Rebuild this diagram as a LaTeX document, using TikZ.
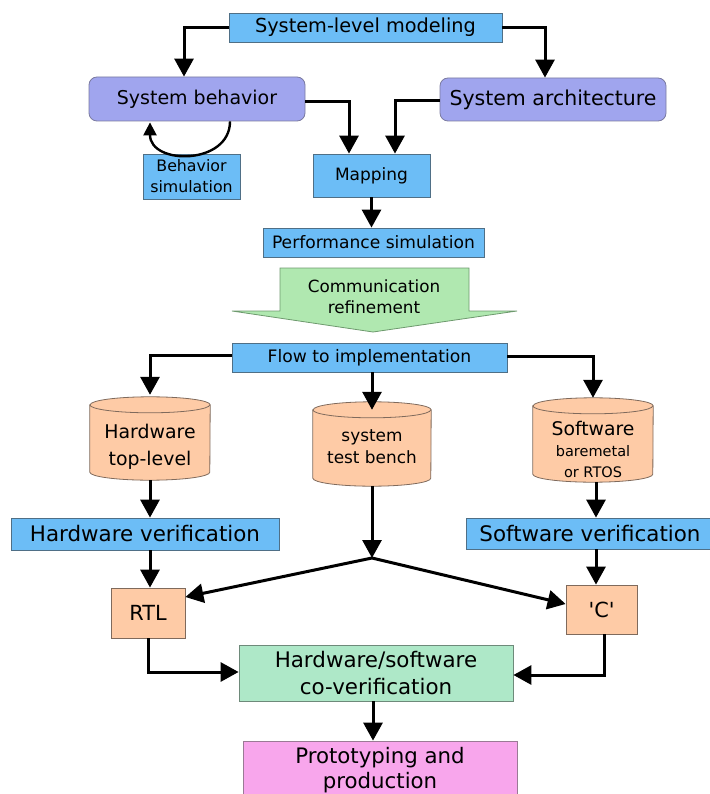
\documentclass[tikz,border=0pt]{standalone}
\usepackage{fontspec}
\setmainfont{DejaVu Sans}
\newfontfamily\straightquotes{DejaVu Sans}
\usetikzlibrary{arrows.meta}
\definecolor{boxblue}{HTML}{6CBDF6}
\definecolor{blueedge}{HTML}{4F6F86}
\definecolor{lavender}{HTML}{A0A5EE}
\definecolor{lavedge}{HTML}{7A7AA0}
\definecolor{peach}{HTML}{FECBA6}
\definecolor{peachedge}{HTML}{7F6A5C}
\definecolor{mint}{HTML}{B0E8B0}
\definecolor{mintedge}{HTML}{6E9A6E}
\definecolor{seafoam}{HTML}{AEE8C8}
\definecolor{seaedge}{HTML}{6E8A7A}
\definecolor{pinkbox}{HTML}{F8A6EC}
\definecolor{pinkedge}{HTML}{9A7A95}
\tikzset{
  fs/.style={font=\fontsize{#1}{#1}\selectfont},
  base/.style={inner sep=0pt, align=center, text=black, line width=0.8pt},
  bluebox/.style={base, fill=boxblue, draw=blueedge},
  lavbox/.style={base, fill=lavender, draw=lavedge, rounded corners=8pt},
  peachbox/.style={base, fill=peach, draw=peachedge},
  cylshape/.style={fill=peach, draw=peachedge, line width=0.8pt},
  plain/.style={base},
  arr/.style={line width=3pt, -{Triangle[length=18pt,width=19pt]}},
  smallarr/.style={line width=2.4pt, -{Triangle[length=13pt,width=13pt]}},
}
\begin{document}
\begin{tikzpicture}[x=1pt,y=1pt]
\useasboundingbox (0,0) rectangle (709,-794);

% upper modelling stage
\node[bluebox, fs=19.3, minimum width=273, minimum height=29] (slm) at (365.5,-27.5) {System-level modeling};
\node[lavbox, fs=19, minimum width=216, minimum height=44] (sb) at (197,-99) {System behavior};
\node[lavbox, fs=20.5, minimum width=226, minimum height=43] (sa) at (553,-99.5) {System architecture};
\node[bluebox, minimum width=97, minimum height=45, font=\fontsize{15.8}{21}\selectfont] (bs) at (191.5,-176.5) {Behavior\\simulation};
\node[bluebox, fs=17, minimum width=117, minimum height=43] (map) at (371.5,-175.5) {Mapping};
\node[bluebox, fs=17.1, minimum width=221, minimum height=29] (perf) at (373.5,-242.5) {Performance simulation};

% refinement arrow
\path[fill=mint, draw=mintedge, line width=0.8pt]
  (280,-268) -- (469,-268) -- (469,-311) -- (517,-311) -- (373,-332)
  -- (232,-311) -- (280,-311) -- cycle;
\node[plain, font=\fontsize{16.8}{21}\selectfont] (comm) at (374,-296.5) {Communication\\refinement};

\node[bluebox, fs=17.2, minimum width=275, minimum height=29] (flow) at (369.5,-357.5) {Flow to implementation};

% storage cylinders
\node[inner sep=0pt, minimum width=120, minimum height=83] (hw) at (150,-438.5) {};
\node[inner sep=0pt, minimum width=118, minimum height=84] (tb) at (372,-444) {};
\node[inner sep=0pt, minimum width=120, minimum height=84] (sw) at (593,-440) {};
\foreach \c/\r in {hw/60, tb/59, sw/60}{
  \path[cylshape] ([yshift=-8]\c.north west) -- ([yshift=8]\c.south west)
    arc[start angle=180, end angle=360, x radius=\r, y radius=8]
    -- ([yshift=-8]\c.north east)
    arc[start angle=0, end angle=180, x radius=\r, y radius=8] -- cycle;
  \draw[peachedge, line width=0.8pt] ([yshift=-8]\c.north west)
    arc[start angle=180, end angle=360, x radius=\r, y radius=8];
}
\node[plain, font=\fontsize{18.9}{27}\selectfont] (hwt) at (150,-446.5) {Hardware\\top-level};
\node[plain, font=\fontsize{16.9}{22}\selectfont] (tbt) at (372,-447) {system\\test bench};
\node[plain, font=\fontsize{14.5}{21}\selectfont] (swt) at (593,-449) {{\fontsize{18.8}{21}\selectfont Software}\\baremetal\\or RTOS};

% verification
\node[bluebox, fs=21.4, minimum width=268, minimum height=32] (hwv) at (145,-534) {Hardware verification};
\node[bluebox, fs=21.4, minimum width=248, minimum height=31] (swv) at (590,-533.5) {Software verification};
\node[peachbox, fs=20.8, minimum width=74, minimum height=50] (rtl) at (148,-613) {RTL};
\node[peachbox, fs=20.8, minimum width=71, minimum height=49] (cc) at (601.5,-609.5) {\straightquotes 'C'};
\node[base, fill=seafoam, draw=seaedge, minimum width=274, minimum height=56, font=\fontsize{21.4}{27}\selectfont] (cov) at (376,-673) {Hardware/software\\co-verification};
\node[base, fill=pinkbox, draw=pinkedge, minimum width=274, minimum height=58, font=\fontsize{21.3}{25}\selectfont] (proto) at (380,-770) {Prototyping and\\production};

\coordinate (j) at (372,-558);

% connectors
\draw[arr] (slm.west) -| ([xshift=-13]sb.north);
\draw[arr] (slm.east) -| ([xshift=-8]sa.north);
\draw[arr] ([yshift=-3]sb.east) -| ([xshift=-22.5]map.north);
\draw[arr] ([yshift=-1.5]sa.west) -| ([xshift=23.5]map.north);
\draw[smallarr] ([xshift=33]sb.south) .. controls ([xshift=33,yshift=-44]sb.south) and ([xshift=-47,yshift=-44]sb.south) .. ([xshift=-47,yshift=-1]sb.south);
\draw[arr] (map.south) -- (map.south |- perf.north);
\draw[arr] ([yshift=2]flow.west) -| ([yshift=2]hw.north);
\draw[arr] (tb.north |- flow.south) -- ([yshift=-8]tb.north);
\draw[arr] ([yshift=1.5]flow.east) -| (sw.north);
\draw[arr] (hw.south) -- (hw.south |- hwv.north);
\draw[arr] ([xshift=2]rtl.north |- hwv.south) -- ([xshift=2]rtl.north);
\draw[arr] ([xshift=3]sw.south) -- ([xshift=3]sw.south |- swv.north);
\draw[arr] ([xshift=-5.5]cc.north |- swv.south) -- ([xshift=-5.5]cc.north);
\draw[arr] (tb.south) -- (j);
\draw[arr] (j) -- ([yshift=16]rtl.east);
\draw[arr] (j) -- ([yshift=5.5]cc.west);
\draw[arr] (rtl.south) |- ([yshift=1]cov.west);
\draw[arr] ([xshift=2.5]cc.south) |- ([yshift=-2]cov.east);
\draw[arr] ([xshift=-3]cov.south) -- ([xshift=-3]cov.south |- proto.north);
\end{tikzpicture}
\end{document}
